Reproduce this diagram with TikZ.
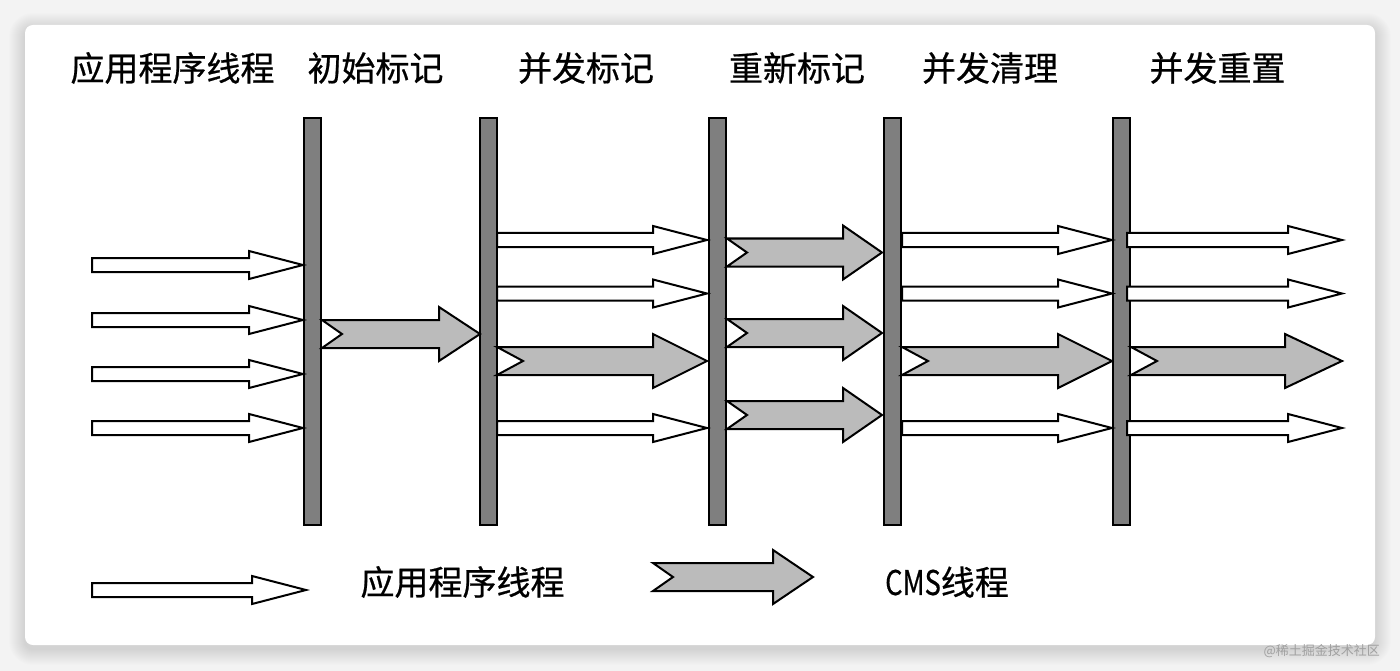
\documentclass[tikz,border=0pt]{standalone}
\usepackage{fontspec}
\usepackage{graphicx}
\newfontfamily\cjk[FakeBold=0.6]{Noto Sans CJK SC}
\newfontfamily\cjkwm{Noto Sans CJK SC}
\definecolor{bargray}{HTML}{7F7F7F}
\definecolor{cmsgray}{HTML}{BBBBBB}
\definecolor{bgc}{HTML}{F3F3F3}
\definecolor{wmgray}{HTML}{A0A0A0}
\newcommand\warr[3]{\draw[appthr] (#1,#3-7) -- (#2-54,#3-7) -- (#2-54,#3-14) -- (#2,#3) -- (#2-54,#3+14) -- (#2-54,#3+7) -- (#1,#3+7) -- cycle;}
\newcommand\garr[5]{\draw[cmsthr] (#1,#3-14) -- (#2-#4,#3-14) -- (#2-#4,#3-27) -- (#2,#3) -- (#2-#4,#3+27) -- (#2-#4,#3+14) -- (#1,#3+14) -- (#1+#5,#3) -- cycle;}
\begin{document}
\begin{tikzpicture}[x=1pt,y=-1pt,
  phasebar/.style={draw=black, fill=bargray, line width=2pt, minimum width=17pt, minimum height=407pt, inner sep=0pt},
  appthr/.style={draw=black, fill=white, line width=2pt, line join=miter},
  cmsthr/.style={draw=black, fill=cmsgray, line width=2pt, line join=miter},
  head/.style={font=\cjk\fontsize{34}{40}\selectfont, inner sep=0pt, text=black},
  wm/.style={font=\cjkwm\fontsize{13}{15}\selectfont, inner sep=0pt, text=wmgray}]
\useasboundingbox (0,0) rectangle (1400,671);
\fill[bgc] (0,0) rectangle (1400,671);
\foreach \i [evaluate=\i as \r using 8+\i] in {1,...,16}
  \fill[black, opacity=0.009, rounded corners=\r pt] (25-\i,25-\i+4) rectangle (1375+\i,645+\i+4);
\fill[white, rounded corners=8pt] (25,25) rectangle (1375,645);

% headers
\node[head] (h0) at (172.5,68) {应用程序线程};
\node[head] (h1) at (375.5,68) {初始标记};
\node[head] (h2) at (586,68) {并发标记};
\node[head] (h3) at (797,68) {重新标记};
\node[head] (h4) at (990,68) {并发清理};
\node[head] (h5) at (1217.5,68) {并发重置};

% phase bars
\node[phasebar] (b1) at (312.5,321.5) {};
\node[phasebar] (b2) at (488.5,321.5) {};
\node[phasebar] (b3) at (717.5,321.5) {};
\node[phasebar] (b4) at (892,321.5) {};
\node[phasebar] (b5) at (1121.5,321.5) {};

% application threads before initial mark
\warr{92}{303}{265}
\warr{92}{303}{320}
\warr{92}{303}{374}
\warr{92}{303}{428}
% initial mark
\garr{322}{480}{334}{41}{20}
% concurrent mark
\warr{497}{707}{240}
\warr{497}{707}{293.5}
\garr{497}{707}{361}{54}{26}
\warr{497}{707}{428}
% remark
\garr{727}{882}{252.5}{39}{20}
\garr{727}{882}{333}{39}{20}
\garr{727}{882}{415}{39}{20}
% concurrent sweep
\warr{902}{1112}{240}
\warr{902}{1112}{293.5}
\garr{902}{1112}{361}{54}{26}
\warr{902}{1112}{428}
% concurrent reset
\warr{1127}{1342}{240}
\warr{1127}{1342}{293.5}
\garr{1131}{1342}{361}{57}{26}
\warr{1127}{1342}{428}

% legend
\warr{92}{306}{590}
\node[head] (l1) at (462.5,582) {应用程序线程};
\garr{653}{813}{577}{40}{20}
\node[head, anchor=west] (l2) at (885,582) {\scalebox{0.8}[1]{CMS}线程};

\node[wm, anchor=east] (w) at (1380,651) {@稀土掘金技术社区};
\end{tikzpicture}
\end{document}
